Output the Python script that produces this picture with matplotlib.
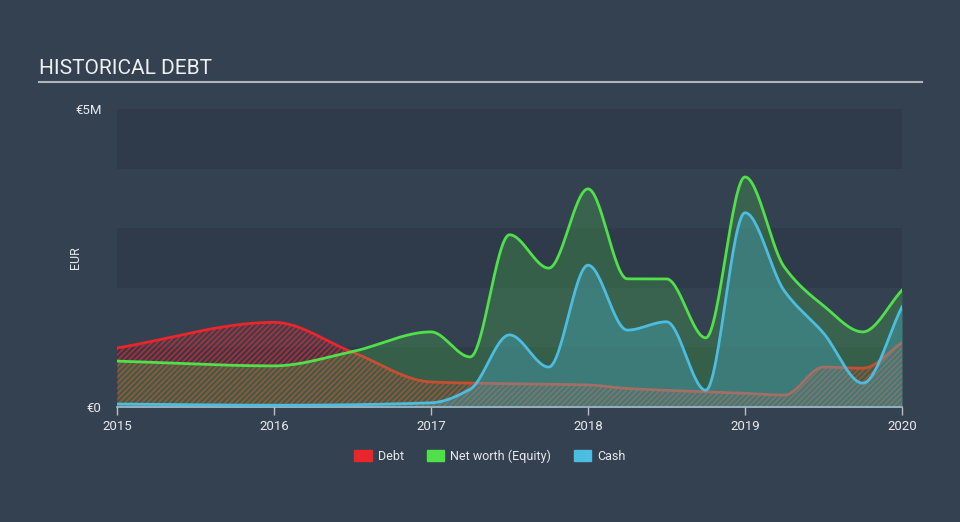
import numpy as np
import matplotlib
matplotlib.use("Agg")
import matplotlib.pyplot as plt

plt.rcParams["font.family"] = ["Roboto", "DejaVu Sans"]
plt.rcParams["hatch.linewidth"] = 1.3

# values in EUR millions
debt_x = [2015.0, 2016.0, 2016.5, 2017.0, 2017.5, 2018.0, 2018.25, 2018.5, 2019.0, 2019.25, 2019.5, 2019.75, 2020.0]
debt_y = [0.99, 1.42, 0.92, 0.42, 0.39, 0.37, 0.31, 0.28, 0.23, 0.20, 0.67, 0.65, 1.08]

eq_x = [2015.0, 2016.0, 2016.5, 2017.0, 2017.25, 2017.5, 2017.75, 2018.0, 2018.25, 2018.5,
        2018.75, 2019.0, 2019.25, 2019.5, 2019.75, 2020.0]
eq_y = [0.77, 0.69, 0.93, 1.26, 0.84, 2.89, 2.33, 3.66, 2.15, 2.15,
        1.16, 3.86, 2.35, 1.70, 1.26, 1.96]

cash_x = [2015.0, 2016.0, 2017.0, 2017.25, 2017.5, 2017.75, 2018.0, 2018.25, 2018.5,
          2018.75, 2019.0, 2019.25, 2019.5, 2019.75, 2020.0]
cash_y = [0.05, 0.03, 0.07, 0.30, 1.21, 0.67, 2.38, 1.29, 1.43,
          0.28, 3.26, 1.95, 1.24, 0.40, 1.68]

years = [2015, 2016, 2017, 2018, 2019, 2020]
BG = "#344150"; BAND = "#2f3b4a"
RED = "#e8262b"; GREEN = "#4fe04a"; BLUE = "#4cbde0"


def monotone(x, y, n=600):
    # monotone cubic (Fritsch-Carlson) just to draw smooth lines through the points
    x = np.asarray(x, float); y = np.asarray(y, float)
    h = np.diff(x); d = np.diff(y) / h
    m = np.zeros_like(y)
    m[0], m[-1] = d[0], d[-1]
    for i in range(1, len(y) - 1):
        if d[i - 1] * d[i] > 0:
            w1 = 2 * h[i] + h[i - 1]; w2 = h[i] + 2 * h[i - 1]
            m[i] = (w1 + w2) / (w1 / d[i - 1] + w2 / d[i])
    xs = np.linspace(x[0], x[-1], n)
    k = np.clip(np.searchsorted(x, xs) - 1, 0, len(h) - 1)
    t = (xs - x[k]) / h[k]
    h00 = 2 * t**3 - 3 * t**2 + 1; h10 = t**3 - 2 * t**2 + t
    h01 = -2 * t**3 + 3 * t**2; h11 = t**3 - t**2
    ys = h00 * y[k] + h10 * h[k] * m[k] + h01 * y[k + 1] + h11 * h[k] * m[k + 1]
    return xs, ys


fig = plt.figure(figsize=(9.6, 5.22), dpi=100, facecolor=BG)
ax = fig.add_axes([117 / 960, 115 / 522, 785 / 960, 298 / 522], facecolor=BG)
ax.set_xlim(2015, 2020)
ax.set_ylim(0, 5)

for lo in (0, 2, 4):
    ax.axhspan(lo, lo + 1, color=BAND, lw=0, zorder=0)

xs, ys = monotone(debt_x, debt_y)
ax.fill_between(xs, 0, ys, facecolor="none", edgecolor=RED, hatch="//////", lw=0, alpha=0.7, zorder=1)
ax.plot(xs, ys, color=RED, lw=2, zorder=1.5)

xs, ys = monotone(eq_x, eq_y)
ax.fill_between(xs, 0, ys, color=GREEN, alpha=0.22, lw=0, zorder=2)
ax.plot(xs, ys, color=GREEN, lw=2, zorder=4)

xs, ys = monotone(cash_x, cash_y)
ax.fill_between(xs, 0, ys, color=BLUE, alpha=0.3, lw=0, zorder=3)
ax.plot(xs, ys, color=BLUE, lw=2, zorder=4)

for s in ("top", "right", "left"):
    ax.spines[s].set_visible(False)
ax.spines["bottom"].set_color("#b8bec6")
ax.spines["bottom"].set_linewidth(1.2)
ax.set_xticks(years)
ax.set_xticklabels([str(y) for y in years])
ax.tick_params(axis="x", colors="#b8bec6", labelcolor="#e8eaec", labelsize=9.5, length=6, width=1)
ax.set_yticks([0, 5])
ax.set_yticklabels(["€0", "€5M"])
ax.tick_params(axis="y", length=0, labelcolor="#e8eaec", labelsize=9.5, pad=11)
ax.set_ylabel("EUR", color="#e8eaec", fontsize=9)
ax.yaxis.set_label_coords(-0.045, 0.5)

fig.text(39 / 960, 1 - 69 / 522, "HISTORICAL DEBT", color="#eef0f2", fontsize=15, va="center")
fig.add_artist(plt.Line2D([39 / 960, 922 / 960], [1 - 82 / 522] * 2, color="#b0b6bd", lw=1.5))

handles = [plt.Rectangle((0, 0), 1, 1, color=c) for c in (RED, GREEN, BLUE)]
fig.legend(handles, ["Debt", "Net worth (Equity)", "Cash"], loc="center",
           bbox_to_anchor=(0.5 + 10 / 960, 1 - 456 / 522), ncol=3, frameon=False, fontsize=9,
           labelcolor="#e8eaec", handlelength=1.4, handleheight=1.0, columnspacing=1.8,
           handletextpad=0.5)

fig.savefig("out.png", dpi=100, facecolor=BG)
